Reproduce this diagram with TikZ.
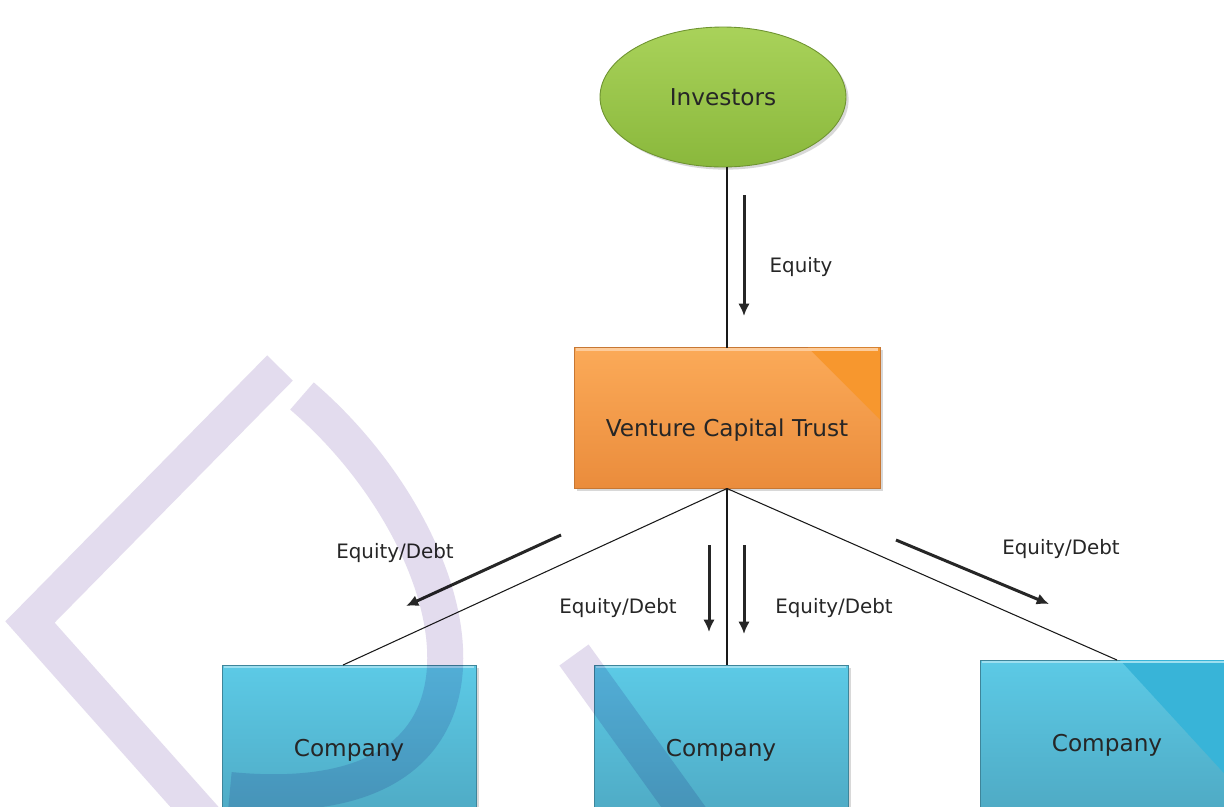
\documentclass[tikz,border=0pt]{standalone}
\usepackage{fontspec}
\setmainfont{DejaVu Sans}
\usetikzlibrary{positioning}
\usetikzlibrary{shapes.geometric}
\usetikzlibrary{calc}
\usetikzlibrary{arrows.meta,shadows}

\definecolor{invtop}{HTML}{A9D25A}
\definecolor{invbot}{HTML}{8AB83C}
\definecolor{vcttop}{HTML}{FBAA58}
\definecolor{vctbot}{HTML}{EA8C3C}
\definecolor{vctdark}{HTML}{F7972E}
\definecolor{comptop}{HTML}{5CCAE6}
\definecolor{compbot}{HTML}{4DA6C0}
\definecolor{compdark}{HTML}{38B4D8}
\definecolor{mark}{HTML}{E3DCEE}

\begin{document}
\begin{tikzpicture}[x=0.02cm, y=-0.02cm,
    shape3d/.style = {outer sep=0pt, inner sep=0pt, line width=0.5pt,
        font=\fontsize{13.2}{15}\selectfont, text=black!85,
        drop shadow={opacity=0.3, shadow xshift=1.5pt, shadow yshift=-1.5pt}},
    inv/.style = {shape3d, ellipse, draw=invbot!80!black, top color=invtop, bottom color=invbot,
        minimum width=4.92cm, minimum height=2.8cm},
    trust/.style = {shape3d, rectangle, draw=vctbot!85!black, top color=vcttop, bottom color=vctbot,
        minimum width=6.12cm, minimum height=2.82cm},
    comp/.style = {shape3d, rectangle, draw=compbot!80!black, top color=comptop, bottom color=compbot,
        minimum width=5.08cm, minimum height=3.4cm},
    flow/.style = {-{Latex[length=7pt,width=6.5pt]}, line width=1.7pt, draw=black!85},
    link/.style = {draw=black!90, line width=0.6pt},
    lbl/.style = {font=\fontsize{11.3}{13}\selectfont, text=black!85}]

	\useasboundingbox (0,0) rectangle (1224,806);
	\clip (0,0) rectangle (1224,806);
	\fill[white] (0,0) rectangle (1224,806);

	% nodes
	\node[inv] (inv) at (723,97) {Investors};
	\node[trust] (vct) at (727,418) {\raisebox{-0.37cm}[0pt][0pt]{Venture Capital Trust}};
	\node[comp] (c1) at (349,750) {Company};
	\node[comp] (c2) at (721,750) {Company};
	\node[comp] (c3) at (1107,745) {Company};

	% shaded corners
	\fill[vctdark] ($(vct.north east)+(-72,0)$) -- (vct.north east) -- ($(vct.north east)+(0,72)$) -- cycle;
	\fill[compdark] ($(c3.north west)+(140,0)$) -- (c3.north east) -- ($(c3.north east)+(0,124)$) -- cycle;
	\foreach \n/\c in {vct/vcttop, c1/comptop, c2/comptop, c3/comptop}
		\draw[\c!60!white, line width=1.2pt] ($(\n.north west)+(2,2)$) -- ($(\n.north east)+(-2,2)$);

	% connectors
	\draw[link] (vct.north |- inv.south) -- (vct.north);
	\draw[link] (vct.south) -- ($(c1.north)+(-6,0)$);
	\draw[link] (vct.south) -- (vct.south |- c2.north);
	\draw[link] (vct.south) -- ($(c3.north)+(10,0)$);

	% money flows
	\coordinate (e0) at (744,195); \coordinate (f0) at (744,316);
	\coordinate (e1) at (561,535); \coordinate (f1) at (406,606);
	\coordinate (e2) at (709,545); \coordinate (f2) at (709,632);
	\coordinate (e3) at (744,545); \coordinate (f3) at (744,634);
	\coordinate (e4) at (896,540); \coordinate (f4) at (1049,604);
	\foreach \i in {0,...,4}
		\draw[flow] (e\i) -- (f\i);

	\node[lbl] (l0) at (801,267) {Equity};
	\node[lbl] (l1) at (395,553) {Equity/Debt};
	\node[lbl] (l2) at (618,608) {Equity/Debt};
	\node[lbl] (l3) at (834,608) {Equity/Debt};
	\node[lbl] (l4) at (1061,549) {Equity/Debt};

	% watermark
	\begin{scope}[blend mode=multiply, draw=mark, line width=0.72cm]
		\draw[line cap=butt] (280,368) -- (30,622) -- (215,830);
		\draw (302,396) .. controls (470,540) and (540,820) .. (230,790);
		\draw (574,655) -- (700,830);
	\end{scope}
\end{tikzpicture}
\end{document}
